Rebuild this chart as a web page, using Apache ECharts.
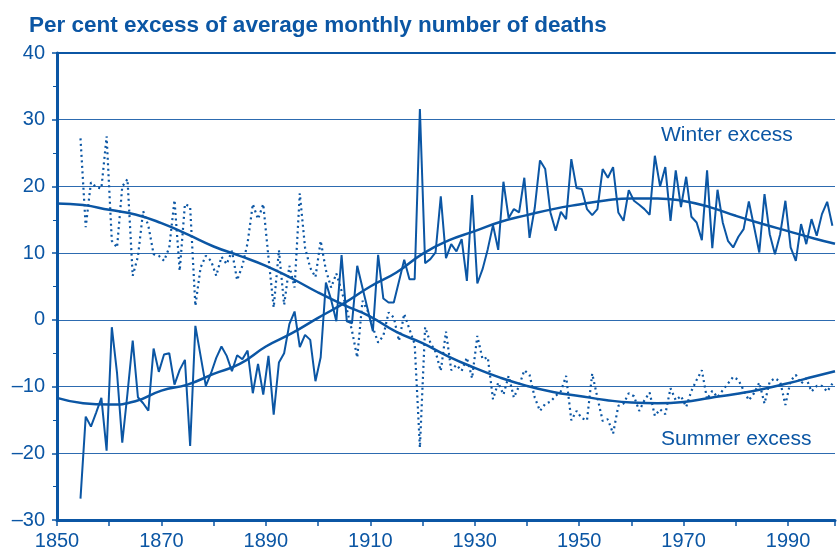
<!DOCTYPE html>
<html>
<head>
<meta charset="utf-8">
<script src="https://cdn.jsdelivr.net/npm/echarts/dist/echarts.min.js"></script>
<style>
  html, body { margin: 0; padding: 0; background: #fff; }
  #chart { width: 838px; height: 554px; }
</style>
</head>
<body>
<div id="chart"></div>
<script>
// yearly values, first year 1854
var firstYear = 1854;
var winterExcess = [
    -26.8, -14.5, -16, -13.9, -11.7, -19.6, -1.1, -8, -18.4, -11,
    -3.1, -11.6, -12.5, -13.6, -4.3, -7.8, -5.2, -5, -9.7, -7.5,
    -6, -18.9, -0.9, -5.4, -9.9, -8, -5.7, -4, -5.4, -7.7,
    -5.3, -5.9, -4.6, -11, -6.6, -11.2, -5.4, -14.2, -6.4, -5,
    -0.65, 1.25, -4.1, -2.25, -3, -9.2, -5.6, 5.6, 3, -0.2,
    9.7, -0.2, -0.5, 8.1, 4.8, 1.6, -1.7, 9.75, 3.2, 2.6,
    2.6, 5.8, 9, 6.1, 6.1, 31.6, 8.5, 9.1, 10.1, 18.5,
    9.25, 11.35, 10.25, 12.1, 5.85, 18.7, 5.45, 7.6, 10.6, 14.2,
    10.5, 20.7, 15.25, 16.6, 16.1, 21.3, 12.3, 16.8, 23.9, 22.6,
    16.1, 13.35, 16.2, 15.1, 24.1, 19.75, 19.6, 16.6, 15.7, 16.6,
    22.6, 21.3, 22.9, 16.1, 14.85, 19.45, 17.85, 17.25, 16.6, 15.75,
    24.6, 20, 22.9, 14.85, 22.4, 16.9, 21.45, 15.45, 14.6, 11.95,
    22.4, 10.75, 19.5, 14.6, 11.85, 10.85, 12.45, 13.6, 17.75, 13.95,
    10.1, 18.85, 12.85, 9.85, 12.85, 17.85, 10.85, 8.85, 14.35, 11.35,
    15.1, 12.6, 15.85, 17.7, 14.1
];
var summerExcess = [
    27.2, 13.9, 20.6, 19.9, 19.7, 27.5, 11.85, 10.85, 20, 21.1,
    6.6, 9.5, 16.3, 14.1, 9.85, 9.6, 8.85, 10.85, 17.95, 7.35,
    17.35, 16.95, 2.1, 7.85, 9.6, 8.85, 6.6, 9.45, 8.35, 10.35,
    5.95, 8.1, 11.5, 17.35, 15.1, 17.35, 9.35, 1.85, 10.45, 2.25,
    8.1, 4.85, 18.95, 10.85, 7.8, 6.4, 11.85, 7.45, 4.85, 6.95,
    4.35, 1.6, -1.65, -5.65, 2.85, 1.35, -1.15, -3.4, -2.4, 1.1,
    0.35, -3.15, 0.9, -1.4, -3.65, -19.15, -1.1, -3.4, -4.8, -7.65,
    -1.75, -7.55, -6.75, -7.65, -5.65, -8.75, -2.4, -5.9, -5.6, -11.9,
    -9.4, -11.2, -8.4, -11.65, -9.9, -7.55, -8.25, -11.65, -13.65, -12.6,
    -12.25, -11.4, -10.7, -8.4, -15.05, -13.65, -14.75, -15.05, -8.05, -11.65,
    -15.15, -14.9, -17.05, -12.9, -12.55, -11, -11.45, -13.65, -12.05, -10.9,
    -14.4, -13.4, -14.15, -10.25, -12.05, -11.4, -13.05, -10.65, -9, -7.55,
    -11.9, -10.65, -11.6, -10.55, -9.55, -8.55, -9, -10.55, -12.05, -11,
    -9.4, -12.55, -9.25, -8.75, -9.25, -12.75, -9.15, -8.25, -9.55, -8.75,
    -10.75, -9.9, -9.9, -10.75, -9.55
];
// fitted trend curves, every 5 years
var trendYears = [1850, 1855, 1860, 1865, 1870, 1875, 1880, 1885, 1890, 1895,
    1900, 1905, 1910, 1915, 1920, 1925, 1930, 1935, 1940, 1945,
    1950, 1955, 1960, 1965, 1970, 1975, 1980, 1985, 1990, 1995, 1999];
var winterTrend = [-11.7, -12.5, -12.7, -12.2, -10.6, -9.7, -8.1, -6.6, -4.0, -2.0,
    0.3, 2.5, 5.0, 7.1, 9.9, 11.9, 13.3, 14.7, 15.7, 16.6,
    17.3, 17.9, 18.2, 18.2, 17.8, 16.9, 15.6, 14.4, 13.3, 12.2, 11.4];
var summerTrend = [17.45, 17.2, 16.5, 15.8, 14.5, 12.8, 11.0, 9.6, 8.1, 6.2,
    4.1, 2.2, 0.5, -1.8, -3.5, -5.5, -7.2, -8.7, -9.9, -10.8,
    -11.4, -12.0, -12.4, -12.5, -12.3, -11.7, -11.1, -10.4, -9.5, -8.5, -7.7];

var blue = '#0b56a4';
var font = 'Liberation Sans, Arial, sans-serif';

function toPairs(values) {
    // each yearly value sits at mid-year
    return values.map(function (v, i) { return [firstYear + i + 0.5, v]; });
}
function trendPairs(values) {
    return values.map(function (v, i) { return [trendYears[i], v]; });
}

var chart = echarts.init(document.getElementById('chart'), null, { renderer: 'canvas' });
var option = {
    animation: false,
    backgroundColor: '#fff',
    title: {
        text: 'Per cent excess of average monthly number of deaths',
        left: 24,
        top: 9,
        textStyle: { color: blue, fontFamily: font, fontWeight: 'bold', fontSize: 22.5 }
    },
    grid: { left: 57, right: 0, top: 53, bottom: 34 },
    xAxis: [{
        type: 'value',
        min: 1850,
        max: 1999,
        interval: 10,
        axisLine: { show: true, onZero: false, lineStyle: { color: blue, width: 3 } },
        axisTick: { show: true, length: 6, lineStyle: { color: blue, width: 1.5 } },
        axisLabel: {
            color: blue, fontFamily: font, fontSize: 20, margin: 11,
            formatter: function (v) { return (v - 1850) % 20 === 0 ? String(v) : ''; }
        },
        splitLine: { show: false }
    }, {
        // top border line at 40
        type: 'value',
        position: 'top',
        min: 1850,
        max: 1999,
        axisLine: { show: true, onZero: false, lineStyle: { color: blue, width: 2 } },
        axisTick: { show: false },
        axisLabel: { show: false },
        splitLine: { show: false }
    }],
    yAxis: {
        type: 'value',
        min: -30,
        max: 40,
        interval: 10,
        axisLine: { show: true, onZero: false, lineStyle: { color: blue, width: 3 } },
        axisTick: { show: true, length: 5, lineStyle: { color: blue, width: 1.5 } },
        minorTick: { show: true, splitNumber: 2, length: 4, lineStyle: { color: blue, width: 1 } },
        axisLabel: {
            color: blue, fontFamily: font, fontSize: 20, margin: 12,
            formatter: function (v) { return v < 0 ? '\u2013' + Math.abs(v) : String(v); }
        },
        splitLine: { show: true, lineStyle: { color: '#2d6bb0', width: 1.2 } }
    },
    series: [{
        name: 'Winter excess',
        type: 'line',
        data: toPairs(winterExcess),
        symbol: 'none',
        lineStyle: { color: blue, width: 2 }
    }, {
        name: 'Summer excess',
        type: 'line',
        data: toPairs(summerExcess),
        symbol: 'none',
        lineStyle: { color: blue, width: 2.2, type: [2, 3.5] }
    }, {
        name: 'Winter trend',
        type: 'line',
        data: trendPairs(winterTrend),
        symbol: 'none',
        smooth: true,
        lineStyle: { color: blue, width: 2.5 }
    }, {
        name: 'Summer trend',
        type: 'line',
        data: trendPairs(summerTrend),
        symbol: 'none',
        smooth: true,
        lineStyle: { color: blue, width: 2.5 }
    }],
    graphic: [{
        type: 'text',
        left: 661,
        top: 125,
        style: { text: 'Winter excess', fill: blue, font: '21px ' + font }
    }, {
        type: 'text',
        left: 661,
        top: 429,
        style: { text: 'Summer excess', fill: blue, font: '21px ' + font }
    }]
};
chart.setOption(option);
</script>
</body>
</html>
